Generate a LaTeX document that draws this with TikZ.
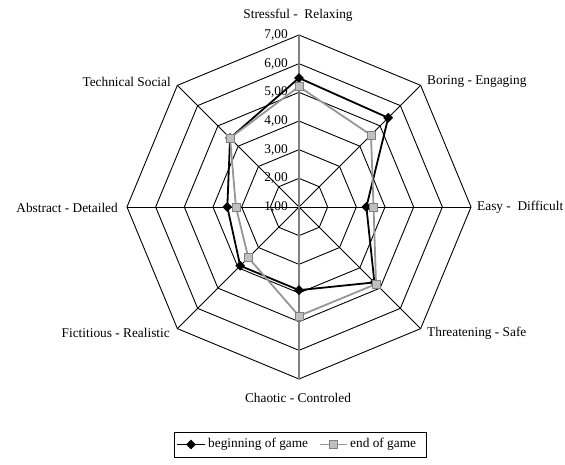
\documentclass[tikz,border=0pt]{standalone}
\usepackage{fontspec}
\setmainfont{Liberation Serif}
\usetikzlibrary{shapes.geometric}
\definecolor{sergray}{RGB}{150,150,150}
\definecolor{mkfill}{RGB}{192,192,192}
\definecolor{mkline}{RGB}{128,128,128}
\begin{document}
\begin{tikzpicture}[x=1pt,y=1pt,
  ring/.style={draw=black,line width=0.9pt},
  spoke/.style={draw=black,line width=0.9pt},
  grayaxis/.style={draw=mkline,line width=1.4pt},
  lbl/.style={font=\fontsize{13.33}{15}\selectfont,inner sep=0pt},
  ticklbl/.style={font=\fontsize{13.33}{15}\selectfont,inner sep=0pt,anchor=east},
  sblack/.style={draw=black,line width=1.8pt,line join=round},
  sgray/.style={draw=sergray,line width=1.8pt,line join=round},
  mkblack/.style={diamond,fill=black,inner sep=0pt,minimum size=10pt},
  mkgray/.style={rectangle,fill=mkfill,draw=mkline,line width=0.6pt,inner sep=0pt,minimum size=8pt},
  legbox/.style={draw=black,line width=0.8pt}
]
\def\u{28.67}
\useasboundingbox (0,0) rectangle (565,464);
\begin{scope}[shift={(299,257)}]
  \coordinate (O) at (0,0);
  % rings
  \foreach \v in {2,...,7}{
    \pgfmathsetmacro\r{(\v-1)*\u}
    \draw[ring] (0:\r) -- (45:\r) -- (90:\r) -- (135:\r) -- (180:\r) -- (225:\r) -- (270:\r) -- (315:\r) -- cycle;
  }
  % spokes
  \foreach \a/\n in {0/e,45/ne,135/nw,180/w,225/sw,315/se}{
    \coordinate (s\n) at (\a:172);
    \draw[spoke] (O) -- (s\n);
  }
  \coordinate (sn) at (90:172);
  \coordinate (ss) at (270:172);
  \draw[grayaxis] (ss) -- (sn);
  % tick labels
  \foreach \v in {1,...,7}{
    \node[ticklbl] (t\v) at (-11,{(\v-1)*\u}) {\v,00};
  }
  % category labels
  \node[lbl] (cN) at (-1,192) {Stressful -\ \ Relaxing};
  \node[lbl,anchor=west] (cNE) at (128,125) {Boring - Engaging};
  \node[lbl,anchor=west] (cE) at (178,0) {Easy -\ \ Difficult};
  \node[lbl,anchor=west] (cSE) at (128,-126) {Threatening - Safe};
  \node[lbl] (cS) at (-1,-191) {Chaotic - Controled};
  \node[lbl,anchor=east] (cSW) at (-129,-126) {Fictitious - Realistic};
  \node[lbl,anchor=east] (cW) at (-181,-1) {Abstract - Detailed};
  \node[lbl,anchor=east] (cNW) at (-128,125) {Technical Social};
  % data: beginning of game
  \foreach \n/\a/\v in {1/90/5.5,2/45/5.4,3/0/3.35,4/-45/4.72,5/-90/3.9,6/-135/3.9,7/180/3.5,8/135/4.4}{
    \coordinate (b\n) at (\a:{(\v-1)*\u});
  }
  \foreach \n/\a/\v in {1/90/5.2,2/45/4.55,3/0/3.6,4/-45/4.8,5/-90/4.8,6/-135/3.5,7/180/3.2,8/135/4.4}{
    \coordinate (g\n) at (\a:{(\v-1)*\u});
  }
  \draw[sblack] (b1) -- (b2) -- (b3) -- (b4) -- (b5) -- (b6) -- (b7) -- (b8) -- cycle;
  \foreach \n in {1,...,8}{ \node[mkblack] (mb\n) at (b\n) {}; }
  \draw[sgray] (g1) -- (g2) -- (g3) -- (g4) -- (g5) -- (g6) -- (g7) -- (g8) -- cycle;
  \foreach \n in {1,...,8}{ \node[mkgray] (mg\n) at (g\n) {}; }
\end{scope}
% legend
\node[legbox,minimum width=252pt,minimum height=25pt,inner sep=0pt] (leg) at (300,19.5) {};
\coordinate (lb1) at (177,19.5);
\coordinate (lb2) at (205,19.5);
\draw[sblack] (lb1) -- (lb2);
\node[mkblack] (lmb) at (191,19.5) {};
\node[lbl,anchor=west] (ltb) at (208,19.5) {beginning of game};
\coordinate (lg1) at (320,19.5);
\coordinate (lg2) at (347,19.5);
\draw[sgray] (lg1) -- (lg2);
\node[mkgray] (lmg) at (333.5,19.5) {};
\node[lbl,anchor=west] (ltg) at (350,19.5) {end of game};
\end{tikzpicture}
\end{document}
